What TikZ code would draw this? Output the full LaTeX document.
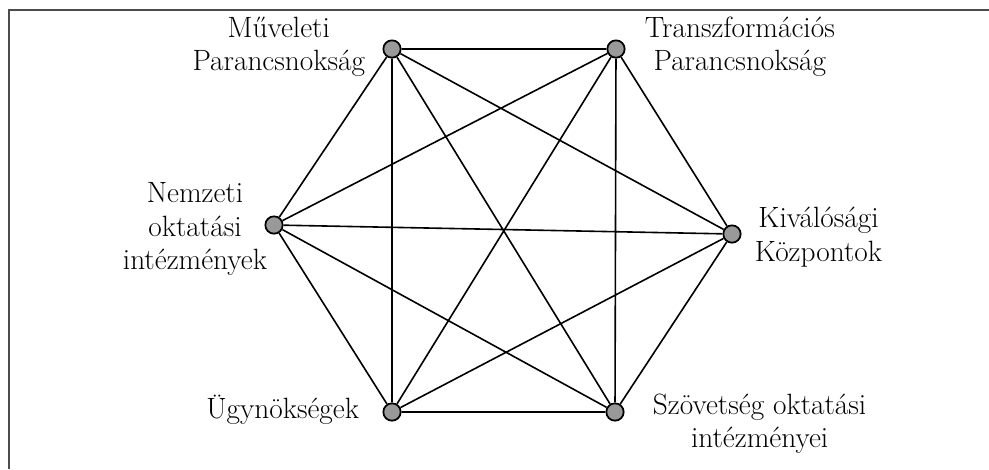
\documentclass[tikz,border=0pt]{standalone}
\usepackage{tikz}
\usetikzlibrary{positioning}
\tikzset{
    hub/.style={circle, draw, line width=1.3pt, fill=black!40, inner sep=0pt, minimum size=13pt},
    tag/.style={align=center, inner sep=2pt, font=\fontsize{22}{25}\selectfont},
    link/.style={line width=1.2pt}
}

\begin{document}
\begin{tikzpicture}[x=0.75pt, y=-0.75pt]
                        \useasboundingbox (0, 0) rectangle (989, 469);
                        \draw[black!70, line width=1.2pt] (9, 469) -- (9, 10) -- (989, 10);
                        % the six partners
                        \node[hub] (mp) at (392, 49) {};
                        \node[hub] (tp) at (616, 49) {};
                        \node[hub] (no) at (274, 225) {};
                        \node[hub] (kk) at (732, 234) {};
                        \node[hub] (ug) at (392, 412) {};
                        \node[hub] (sz) at (615, 412) {};
                        \node[tag, anchor=east] (mpt) at (368, 47) {Műveleti\\Parancsnokság};
                        \node[tag, anchor=west] (tpt) at (642, 47) {Transzformációs\\Parancsnokság};
                        \node[tag, anchor=east] (not) at (270, 229) {Nemzeti\\oktatási\\intézmények};
                        \node[tag, anchor=west] (kkt) at (752, 237) {Kiválósági\\Központok};
                        \node[tag, anchor=east] (ugt) at (362, 410) {Ügynökségek};
                        \node[tag, anchor=west] (szt) at (650, 424) {Szövetség oktatási\\intézményei};
                        % everyone linked to everyone
                        \draw[link]
                        (mp) -- (tp) (mp) -- (no) (mp) -- (kk) (mp) -- (ug) (mp) -- (sz)
                        (tp) -- (no) (tp) -- (kk) (tp) -- (ug) (tp) -- (sz)
                        (no) -- (kk) (no) -- (ug) (no) -- (sz)
                        (kk) -- (ug) (kk) -- (sz)
                        (ug) -- (sz);
                    \end{tikzpicture}
\end{document}
